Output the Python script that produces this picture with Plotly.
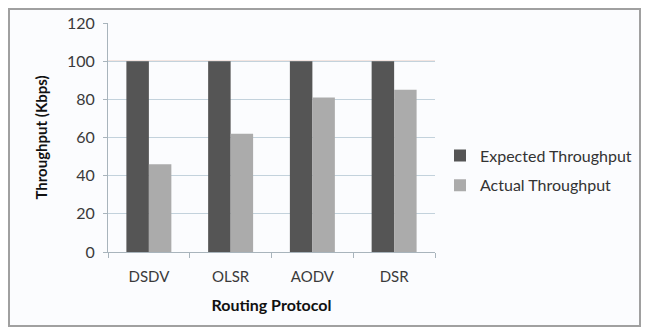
import plotly.graph_objects as go

protocols = ["DSDV", "OLSR", "AODV", "DSR"]
expected = [100, 100, 100, 100]
actual = [46, 62, 81, 85]
y_ticks = [0, 20, 40, 60, 80, 100, 120]

# page has an 8px body margin on every side, so the figure is sized to fit the window
OFF = 8
W, H = 649 - 2 * OFF, 335 - 2 * OFF
L, T = 108 - OFF, 23 - OFF
R = W - (435 - OFF)
B = H - (252 - OFF)
pw, ph = W - L - R, H - T - B

def px_x(x):  # window px -> paper
    return (x - OFF - L) / pw

def px_y(y):
    return (H - B - (y - OFF)) / ph

fnt = "Lato, 'Open Sans', sans-serif"

fig = go.Figure()
fig.add_trace(go.Bar(x=protocols, y=expected, name="Expected Throughput",
                     marker=dict(color="#555555", line=dict(width=0)),
                     legendgroup="a"))
fig.add_trace(go.Bar(x=protocols, y=actual, name="Actual Throughput",
                     marker=dict(color="#ababab", line=dict(width=0)),
                     legendgroup="b"))

fig.update_layout(
    width=W, height=H,
    margin=dict(l=L, r=R, t=T, b=B, autoexpand=False),
    paper_bgcolor="white",
    plot_bgcolor="rgba(0,0,0,0)",
    barmode="group", bargap=0.45, bargroupgap=0,
    font=dict(family=fnt, color="#333333", size=15),
    showlegend=True,
    legend=dict(x=px_x(440), y=px_y(170.5), xanchor="left", yanchor="middle",
                bgcolor="rgba(0,0,0,0)", font=dict(size=16, color="#333333"),
                traceorder="grouped", tracegroupgap=6, itemwidth=30),
    xaxis=dict(showgrid=False, showline=True, linecolor="#a8b4bc", linewidth=1,
               ticks="outside", tickson="boundaries", ticklen=5, tickcolor="#a8b4bc",
               tickfont=dict(size=15, color="#3a3a3a"), automargin=False,
               ticklabelstandoff=11,
               title=dict(text="<b>Routing Protocol</b>", font=dict(size=16, color="#111111"),
                          standoff=15)),
    yaxis=dict(range=[0, 120], tickvals=y_ticks, showgrid=True, gridcolor="#c3d2dc",
               gridwidth=1, showline=True, linecolor="#a8b4bc", linewidth=1,
               ticks="outside", ticklen=4, tickcolor="#a8b4bc", zeroline=False,
               tickfont=dict(size=16, color="#3a3a3a"), automargin=False,
               ticklabelstandoff=5,
               title=dict(text="<b>Throughput (Kbps)</b>", font=dict(size=15, color="#111111"),
                          standoff=15)),
    shapes=[
        dict(type="rect", xref="paper", yref="paper",
             x0=px_x(9), x1=px_x(640), y0=px_y(326), y1=px_y(9),
             line=dict(color="#a0a0a0", width=2), fillcolor="#fbfcfe", layer="below"),
        dict(type="line", xref="paper", yref="y", x0=0, x1=1, y0=100, y1=100,
             line=dict(color="#e2b9aa", width=1), layer="below"),
    ],
)

fig.write_html("out.html")
